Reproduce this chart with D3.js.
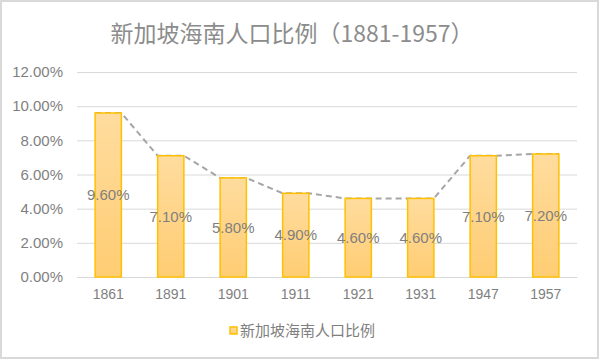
<!DOCTYPE html>
<html><head><meta charset="utf-8">
<script src="https://cdn.jsdelivr.net/npm/d3@7"></script>
<style>body{margin:0;background:#fff}svg{display:block}text{font-family:"Noto Sans CJK SC","Liberation Sans",Arial,sans-serif}</style>
</head><body><svg id="c" width="600" height="360"></svg>
<script>
const categories = ["1861","1891","1901","1911","1921","1931","1947","1957"];
const values = [9.6, 7.1, 5.8, 4.9, 4.6, 4.6, 7.1, 7.2];
const yTicks = [0, 2, 4, 6, 8, 10, 12];
const title = "新加坡海南人口比例（1881-1957）";
const seriesName = "新加坡海南人口比例";

const svg = d3.select("#c");
const W = 600, H = 360;
const m = {left: 77, right: 23, top: 72, bottom: 83};
svg.append("rect").attr("x",1).attr("y",1).attr("width",W-3).attr("height",H-3)
  .attr("fill","#fff").attr("stroke","#d9d9d9").attr("stroke-width",2);

const defs = svg.append("defs");
const grad = defs.append("linearGradient").attr("id","g").attr("x1",0).attr("y1",0).attr("x2",0).attr("y2",1);
grad.append("stop").attr("offset","0%").attr("stop-color","#ffdc9e");
grad.append("stop").attr("offset","100%").attr("stop-color","#ffcd73");

const x = d3.scaleBand().domain(categories).range([m.left, W-m.right]).paddingInner(0.58).paddingOuter(0.29);
const y = d3.scaleLinear().domain([0,12]).range([H-m.bottom, m.top]);

// gridlines
const yAxis = d3.axisLeft(y).tickValues(yTicks).tickSize(-(W-m.left-m.right)).tickFormat(d => d.toFixed(2)+"%");
const ga = svg.append("g").attr("transform",`translate(${m.left},0)`).call(yAxis);
ga.select(".domain").remove();
ga.selectAll("line").attr("stroke","#d9d9d9");
ga.selectAll("text").attr("fill","#7f7f7f").attr("font-size",15).attr("x",-14)
  .style("font-family","'Liberation Sans',Arial,sans-serif");

const xAxis = d3.axisBottom(x).tickSize(0).tickPadding(12);
const gx = svg.append("g").attr("transform",`translate(0,${H-m.bottom})`).call(xAxis);
gx.select(".domain").attr("stroke","#d9d9d9");
gx.selectAll("text").attr("fill","#7f7f7f").attr("font-size",14)
  .style("font-family","'Liberation Sans',Arial,sans-serif");

// series lines
let pts = [];
categories.forEach((c,i) => {
  pts.push([x(c), y(values[i])]);
  pts.push([x(c)+x.bandwidth(), y(values[i])]);
});
svg.append("path").attr("d", d3.line()(pts)).attr("fill","none")
  .attr("stroke","#a6a6a6").attr("stroke-width",2).attr("stroke-dasharray","6,4");

// bars
svg.append("g").selectAll("rect").data(categories).join("rect")
  .attr("x", d => x(d)).attr("width", x.bandwidth())
  .attr("y", (d,i) => y(values[i])).attr("height", (d,i) => y(0)-y(values[i]))
  .attr("fill","url(#g)").attr("stroke","#ffc000").attr("stroke-width",1.5);

// labels
svg.append("g").selectAll("text").data(categories).join("text")
  .attr("x", d => x(d)+x.bandwidth()/2)
  .attr("y", (d,i) => (y(values[i])+y(0))/2)
  .attr("dy","0.35em").attr("text-anchor","middle")
  .attr("fill","#7f7f7f").attr("font-size",15)
  .style("font-family","'Liberation Sans',Arial,sans-serif")
  .text((d,i) => values[i].toFixed(2)+"%");

// title
svg.append("text").attr("x",292).attr("y",42).attr("text-anchor","middle")
  .attr("fill","#8c8c8c").attr("font-size",23).text(title);

// legend
const lg = svg.append("g");
lg.append("rect").attr("x",230).attr("y",327).attr("width",7).attr("height",7)
  .attr("fill","url(#g)").attr("stroke","#ffc000").attr("stroke-width",1.5);
lg.append("text").attr("x",240).attr("y",331).attr("dy","0.35em")
  .attr("fill","#7f7f7f").attr("font-size",15).text(seriesName);
</script></body></html>
